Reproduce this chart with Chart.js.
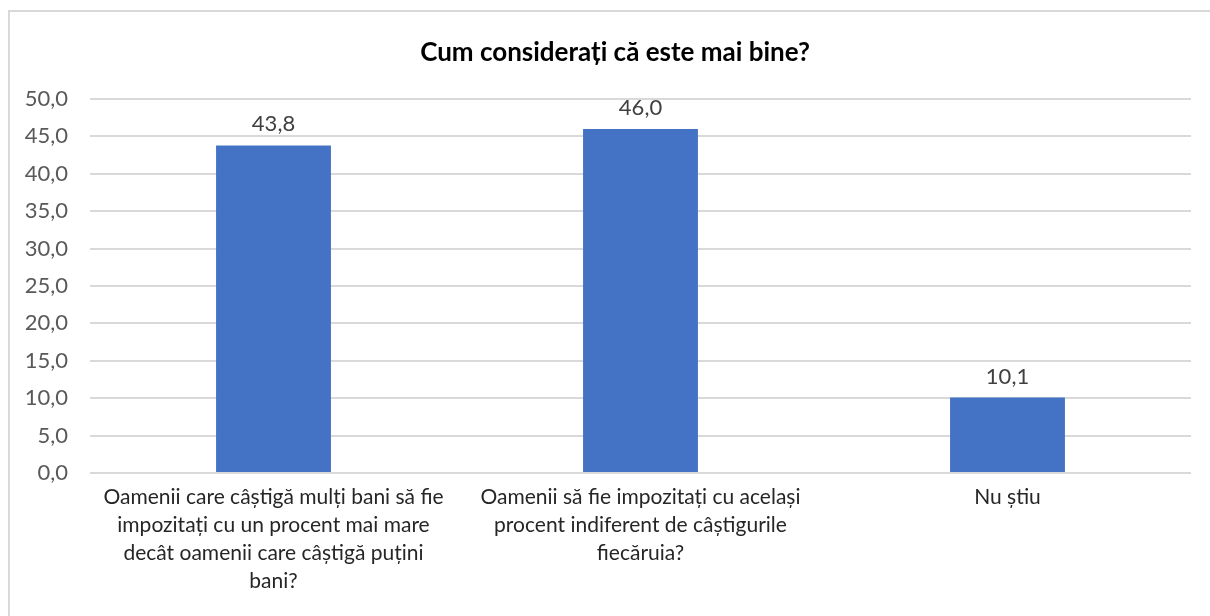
<!DOCTYPE html>
<html>
<head>
<meta charset="utf-8">
<script src="https://cdn.jsdelivr.net/npm/chart.js@4/dist/chart.umd.min.js"></script>
<style>
html,body{margin:0;padding:0;background:#fff;}
#wrap{position:relative;width:1210px;height:616px;}
</style>
</head>
<body>
<div id="wrap"><canvas id="c" width="1210" height="616"></canvas></div>
<script>
const chartTitle = "Cum considerați că este mai bine?";
const categories = [
  ["Oamenii care câștigă mulți bani să fie", "impozitați cu un procent mai mare", "decât oamenii care câștigă puțini", "bani?"],
  ["Oamenii să fie impozitați cu același", "procent indiferent de câștigurile", "fiecăruia?"],
  ["Nu știu"]
];
const values = [43.8, 46.0, 10.1];
const yTicks = [0, 5, 10, 15, 20, 25, 30, 35, 40, 45, 50];

const FONT = "Lato, 'Open Sans', sans-serif";
const fmt = v => v.toFixed(1).replace('.', ',');

const decor = {
  id: 'decor',
  beforeDraw(chart) {
    const ctx = chart.ctx;
    ctx.save();
    ctx.strokeStyle = '#d9d9d9';
    ctx.lineWidth = 2;
    ctx.beginPath();
    ctx.moveTo(9, 616);
    ctx.lineTo(9, 11);
    ctx.lineTo(1210, 11);
    ctx.stroke();
    ctx.fillStyle = '#000';
    ctx.font = "bold 26px " + FONT;
    ctx.textAlign = 'center';
    ctx.textBaseline = 'middle';
    ctx.fillText(chartTitle, 615, 53);
    ctx.restore();
  },
  afterDatasetsDraw(chart) {
    const ctx = chart.ctx;
    const meta = chart.getDatasetMeta(0);
    ctx.save();
    ctx.fillStyle = '#404040';
    ctx.font = "22px " + FONT;
    ctx.textAlign = 'center';
    ctx.textBaseline = 'bottom';
    meta.data.forEach((bar, i) => {
      ctx.fillText(fmt(chart.data.datasets[0].data[i]), bar.x, bar.y - 10);
    });
    ctx.restore();
  }
};

new Chart(document.getElementById('c'), {
  type: 'bar',
  data: {
    labels: categories,
    datasets: [{
      data: values,
      backgroundColor: '#4472c4',
      borderWidth: 0,
      categoryPercentage: 1,
      barPercentage: 0.313
    }]
  },
  options: {
    responsive: false,
    animation: false,
    devicePixelRatio: 1,
    layout: { padding: { top: 99, right: 19, bottom: 0, left: 0 } },
    plugins: { legend: { display: false }, title: { display: false }, tooltip: { enabled: false } },
    scales: {
      x: {
        grid: { display: false, drawTicks: false },
        border: { display: false },
        ticks: { color: '#262626', font: { family: FONT, size: 21, lineHeight: 1.33 }, padding: 10, maxRotation: 0, autoSkip: false },
        afterFit(s) { s.height = 143; }
      },
      y: {
        min: 0, max: 50,
        afterBuildTicks(s) { s.ticks = yTicks.map(v => ({ value: v })); },
        grid: { color: '#d9d9d9', lineWidth: 2, drawTicks: false },
        border: { display: false },
        ticks: { color: '#595959', font: { family: FONT, size: 22 }, padding: 22, callback: v => fmt(v) },
        afterFit(s) { s.width = 90; }
      }
    }
  },
  plugins: [decor]
});
</script>
</body>
</html>
